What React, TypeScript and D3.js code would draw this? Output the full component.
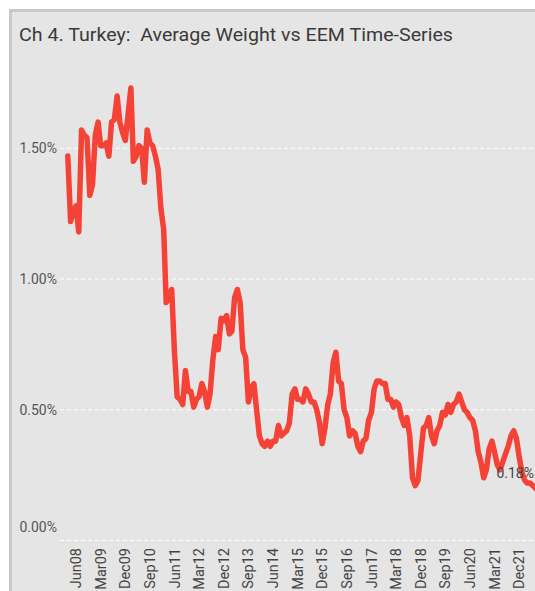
import React from "react";
import * as d3 from "d3";

const startMonth = new Date(2008, 2, 1); // Mar 2008
const weights: number[] = [
  1.47, 1.22, 1.26, 1.28, 1.18, 1.57, 1.55, 1.54, 1.32, 1.36,
  1.55, 1.60, 1.51, 1.51, 1.52, 1.47, 1.60, 1.61, 1.70, 1.60,
  1.56, 1.53, 1.63, 1.73, 1.45, 1.47, 1.51, 1.50, 1.37, 1.57,
  1.52, 1.51, 1.47, 1.42, 1.27, 1.19, 0.91, 0.93, 0.96, 0.72,
  0.55, 0.54, 0.52, 0.65, 0.57, 0.57, 0.51, 0.54, 0.55, 0.60,
  0.57, 0.51, 0.56, 0.69, 0.78, 0.73, 0.85, 0.84, 0.86, 0.79,
  0.80, 0.93, 0.96, 0.91, 0.73, 0.70, 0.53, 0.58, 0.60, 0.50,
  0.40, 0.37, 0.36, 0.38, 0.36, 0.38, 0.38, 0.44, 0.40, 0.41,
  0.42, 0.45, 0.56, 0.58, 0.54, 0.54, 0.53, 0.58, 0.56, 0.53,
  0.53, 0.50, 0.45, 0.37, 0.43, 0.52, 0.56, 0.68, 0.72, 0.61,
  0.60, 0.50, 0.47, 0.40, 0.42, 0.41, 0.36, 0.34, 0.38, 0.39,
  0.46, 0.49, 0.58, 0.61, 0.61, 0.60, 0.60, 0.54, 0.54, 0.51,
  0.53, 0.52, 0.47, 0.44, 0.47, 0.40, 0.24, 0.21, 0.23, 0.33,
  0.43, 0.44, 0.47, 0.40, 0.37, 0.42, 0.44, 0.49, 0.48, 0.52,
  0.49, 0.52, 0.53, 0.56, 0.53, 0.50, 0.49, 0.47, 0.46, 0.42,
  0.34, 0.30, 0.24, 0.27, 0.35, 0.38, 0.34, 0.29, 0.27, 0.30,
  0.33, 0.36, 0.40, 0.42, 0.39, 0.32, 0.26, 0.23, 0.22, 0.22,
  0.21, 0.20, 0.19, 0.18,
];
const xTickLabels = [
  "Jun08", "Mar09", "Dec09", "Sep10", "Jun11", "Mar12", "Dec12", "Sep13", "Jun14", "Mar15",
  "Dec15", "Sep16", "Jun17", "Mar18", "Dec18", "Sep19", "Jun20", "Mar21", "Dec21",
];
const yTicks = [0, 0.5, 1.0, 1.5];
const title = "Ch 4. Turkey:  Average Weight vs EEM Time-Series";

const FONT = "Roboto, 'Noto Sans', sans-serif";

export default function App() {
  const W = 535;
  const H = 591;
  const dates = weights.map((_, i) => d3.timeMonth.offset(startMonth, i));
  const x = d3
    .scaleTime()
    .domain([dates[0], dates[dates.length - 1]])
    .range([67.8, 541]);
  const y = d3.scaleLinear().domain([0, 1]).range([540.5, 279]);
  const line = d3
    .line<number>()
    .x((_, i) => x(dates[i]))
    .y((d) => y(d))
    .curve(d3.curveLinear);

  const tickDates = xTickLabels.map((lab) => d3.timeParse("%b%y")(lab) as Date);
  const last = weights.length - 1;

  return (
    <svg
      width={W}
      height={H}
      style={{ position: "fixed", left: 0, top: 0, display: "block" }}
    >
      <rect x={0} y={0} width={W} height={H} fill="#ffffff" />
      <rect x={9} y={9} width={W} height={H} fill="#c9c9c9" />
      <rect x={12} y={12} width={W} height={H} fill="#e5e5e5" />
      <text
        x={19}
        y={41}
        fontFamily={FONT}
        fontSize={19}
        fill="#3a3a3a"
        textLength={434}
        lengthAdjust="spacingAndGlyphs"
        style={{ whiteSpace: "pre" }}
      >
        {title}
      </text>
      {yTicks.map((t) => (
        <g key={t}>
          <line
            x1={60}
            x2={W}
            y1={y(t)}
            y2={y(t)}
            stroke="#ffffff"
            strokeWidth={1}
            strokeDasharray="4 3"
          />
          <text
            x={57}
            y={t === 0 ? y(t) - 9 : y(t) + 5}
            textAnchor="end"
            fontFamily={FONT}
            fontSize={14}
            fill="#555555"
          >
            {d3.format(".2f")(t) + "%"}
          </text>
        </g>
      ))}
      <path
        d={line(weights) || ""}
        fill="none"
        stroke="#f44336"
        strokeWidth={5.5}
        strokeLinejoin="round"
        strokeLinecap="round"
      />
      <text
        x={W - 1}
        y={y(weights[last]) - 15}
        textAnchor="end"
        fontFamily={FONT}
        fontSize={14}
        fill="#444444"
      >
        {d3.format(".2f")(weights[last]) + "%"}
      </text>
      {tickDates.map((d, i) => (
        <text
          key={xTickLabels[i]}
          transform={`translate(${x(d)},548) rotate(-90)`}
          textAnchor="end"
          dy="0.35em"
          fontFamily={FONT}
          fontSize={14.5}
          fill="#444444"
        >
          {xTickLabels[i]}
        </text>
      ))}
    </svg>
  );
}
